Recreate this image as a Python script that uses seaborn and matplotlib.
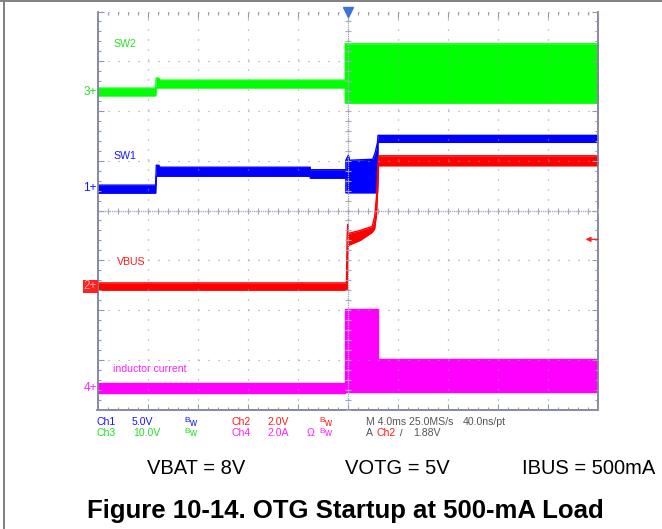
import matplotlib
matplotlib.use("Agg")
import matplotlib.pyplot as plt
import pandas as pd
import seaborn as sns
from matplotlib.lines import Line2D
from matplotlib.ticker import MultipleLocator

sns.set_theme(style="white")
plt.rcParams["font.family"] = ["Liberation Sans", "DejaVu Sans"]
plt.rcParams["lines.scale_dashes"] = False

# ---------------------------------------------------------------------------
# Scope settings
# ---------------------------------------------------------------------------
ch_names = ["Ch1", "Ch2", "Ch3", "Ch4"]
ch_labels = ["SW1", "VBUS", "SW2", "inductor current"]
ch_scale = [5.0, 2.0, 10.0, 2.0]          # units per division
ch_unit = ["V", "V", "V", "A"]
time_per_div_ms = 4.0
trigger_level_v = 1.88

# ---------------------------------------------------------------------------
# Trace envelopes (time in ms, min / max in channel units)
# ---------------------------------------------------------------------------
sw1_t = [-20.0, -15.35, -15.3, -15.1, -15.0, -3.0, -3.0, -0.15, -0.15, 0.05, 0.15, 2.0, 2.2, 2.38, 2.42, 20.0]
sw1_lo = [-0.5, -0.5, 1.2, 1.2, 1.2, 1.2, 1.0, 1.0, -0.47, -0.47, -0.47, -0.47, -0.47, -0.47, 4.6, 4.6]
sw1_hi = [0.3, 0.3, 2.3, 2.3, 2.1, 2.1, 1.85, 1.85, 2.8, 3.3, 2.8, 2.9, 3.6, 4.6, 5.3, 5.3]

vbus_t = [-20.0, -0.1, -0.05, 0.0, 0.06, 1.0, 1.95, 2.15, 2.3, 2.38, 2.46, 20.0]
vbus_lo = [-0.16, -0.16, -0.16, 1.3, 1.64, 1.84, 2.16, 2.3, 2.9, 3.8, 4.84, 4.84]
vbus_hi = [0.13, 0.13, 2.0, 2.48, 2.12, 2.24, 2.4, 2.8, 3.6, 4.6, 5.24, 5.24]

sw2_t = [-20.0, -15.35, -15.3, -15.1, -15.0, -0.2, -0.2, 20.0]
sw2_lo = [-0.75, -0.75, 0.85, 0.85, 0.85, 0.85, -2.2, -2.2]
sw2_hi = [0.8, 0.8, 2.8, 2.8, 2.4, 2.4, 9.7, 9.7]

il_t = [-20.0, -0.18, -0.18, 2.44, 2.44, 20.0]
il_lo = [-0.2, -0.2, -0.19, -0.19, -0.16, -0.16]
il_hi = [0.2, 0.2, 3.18, 3.18, 1.17, 1.17]

# ---------------------------------------------------------------------------
# Layout / style
# ---------------------------------------------------------------------------
W, H = 662, 529
def fx(px):
    return px / W
def fy(py):
    return 1 - py / H

colors = {"Ch1": "#0000ff", "Ch2": "#ff0000", "Ch3": "#00ff00", "Ch4": "#ff00ff"}
text_colors = {"Ch1": "#1515ff", "Ch2": "#ff1a1a", "Ch3": "#22e022", "Ch4": "#ff22ff"}
trace_offset_div = {"Ch1": 0.45, "Ch2": -1.52, "Ch3": 2.38, "Ch4": -3.56}
grid_col = "#9297ae"
frame_col = "#7c8098"

fig = plt.figure(figsize=(W / 100, H / 100), dpi=100)
ax = fig.add_axes([fx(97.5), fy(409.5), fx(598) - fx(97.5), fy(11.5) - fy(409.5)])
ax.set_xlim(-5, 5)
ax.set_ylim(-4, 4)

# Long-form table of envelope edges, in screen divisions
traces = {
    "Ch1": (sw1_t, sw1_lo, sw1_hi),
    "Ch2": (vbus_t, vbus_lo, vbus_hi),
    "Ch3": (sw2_t, sw2_lo, sw2_hi),
    "Ch4": (il_t, il_lo, il_hi),
}
rows = []
for name, scale in zip(ch_names, ch_scale):
    t, lo, hi = traces[name]
    off = trace_offset_div[name]
    for edge, vals in (("lo", lo), ("hi", hi)):
        for ti, v in zip(t, vals):
            rows.append({"channel": name, "edge": f"{name}-{edge}",
                         "x": ti / time_per_div_ms, "y": off + v / scale})
df = pd.DataFrame(rows)

draw_order = ["Ch3", "Ch1", "Ch2", "Ch4"]
for name in draw_order:
    sub = df[df["channel"] == name]
    lo = sub[sub["edge"] == f"{name}-lo"]
    hi = sub[sub["edge"] == f"{name}-hi"]
    ax.fill_between(lo["x"].to_numpy(), lo["y"].to_numpy(), hi["y"].to_numpy(),
                    color=colors[name], lw=0, zorder=1)
    sns.lineplot(data=sub, x="x", y="y", units="edge", estimator=None, sort=False,
                 color=colors[name], lw=1.0, legend=False, ax=ax, zorder=1.5)

# Graticule: dotted divisions, minor ticks on the frame
ax.xaxis.set_major_locator(MultipleLocator(1))
ax.yaxis.set_major_locator(MultipleLocator(1))
ax.xaxis.set_minor_locator(MultipleLocator(0.2))
ax.yaxis.set_minor_locator(MultipleLocator(0.2))
ax.set_axisbelow(False)
ax.grid(True, which="major", color=grid_col, lw=0.9, ls=(0, (0.75, 6.45)), zorder=3)
ax.tick_params(which="both", direction="in", top=True, right=True, bottom=True, left=True,
               labelbottom=False, labelleft=False, color=grid_col, width=0.8)
ax.tick_params(which="major", length=4)
ax.tick_params(which="minor", length=2.5)
ax.set_xlabel("")
ax.set_ylabel("")
for side in ("left", "right", "bottom"):
    ax.spines[side].set_color(frame_col)
    ax.spines[side].set_linewidth(1.3)
ax.spines["top"].set_visible(False)

# Center crosshair
ax.axhline(0, color="#a5a9bf", lw=0.9, ls=(0, (1.0, 0.6)), zorder=3)
ax.axvline(0, color="#a5a9bf", lw=0.9, ls=(0, (1.0, 0.6)), zorder=3)
minor_pos = [i / 5 for i in range(-25, 26)]
ax.plot(minor_pos, [0] * len(minor_pos), ls="none", marker="|", ms=5, mew=0.8,
        color="#a5a9bf", zorder=3)
minor_pos_y = [i / 5 for i in range(-20, 21)]
ax.plot([0] * len(minor_pos_y), minor_pos_y, ls="none", marker="_", ms=5, mew=0.8,
        color="#a5a9bf", zorder=3)

# Trigger position and trigger level markers
ax.plot([0], [4.0], marker="v", ms=7, color="#3a74d8", clip_on=False, zorder=5)
trig_y = trace_offset_div["Ch2"] + trigger_level_v / ch_scale[1]
ax.annotate("", xy=(4.75, trig_y), xytext=(5.0, trig_y),
            arrowprops=dict(arrowstyle="-|>", color="#ff2020", lw=1.0,
                            mutation_scale=7, shrinkA=0, shrinkB=0),
            annotation_clip=False, zorder=5)

# Channel ground markers on the left edge
marker_digits = {"Ch1": "1", "Ch2": "2", "Ch3": "3", "Ch4": "4"}
for name in ch_names:
    ypx = 210.5 - trace_offset_div[name] * 49.75
    if name == "Ch2":
        fig.text(fx(97), fy(ypx), marker_digits[name] + "+", ha="right", va="center",
                 fontsize=8.5, color="#ffb0b0",
                 bbox=dict(fc="#ff2020", ec="none", pad=0.4))
    else:
        fig.text(fx(97), fy(ypx), marker_digits[name] + "+", ha="right", va="center",
                 fontsize=8.5, color=text_colors[name])

# Trace labels
label_pos = {"Ch3": (113, 44), "Ch1": (113, 156), "Ch2": (117, 262), "Ch4": (113, 369)}
for name, lab in zip(ch_names, ch_labels):
    px, py = label_pos[name]
    fig.text(fx(px), fy(py), lab, ha="left", va="center", fontsize=7.6,
             color=text_colors[name])

# Status readout under the graticule
def bw(px, py, col):
    fig.text(fx(px), fy(py - 1.5), "B", ha="left", va="center", fontsize=6.0, color=col)
    fig.text(fx(px + 5.5), fy(py + 0.5), "w", ha="left", va="center", fontsize=7.0, color=col)

gray = "#555555"
fs = 7.6
r1, r2 = 422, 433
fig.text(fx(96), fy(r1), ch_names[0], fontsize=fs, color=text_colors["Ch1"], va="center")
fig.text(fx(132), fy(r1), f"{ch_scale[0]:.1f}{ch_unit[0]}", fontsize=fs, color=text_colors["Ch1"], va="center")
bw(184, r1, text_colors["Ch1"])
fig.text(fx(231), fy(r1), ch_names[1], fontsize=fs, color=text_colors["Ch2"], va="center")
fig.text(fx(267), fy(r1), f"{ch_scale[1]:.1f}{ch_unit[1]}", fontsize=fs, color=text_colors["Ch2"], va="center")
bw(319, r1, text_colors["Ch2"])
fig.text(fx(366), fy(r1), "M 4.0ms 25.0MS/s", fontsize=fs, color=gray, va="center")
fig.text(fx(463), fy(r1), "40.0ns/pt", fontsize=fs, color=gray, va="center")

fig.text(fx(96), fy(r2), ch_names[2], fontsize=fs, color=text_colors["Ch3"], va="center")
fig.text(fx(133), fy(r2), f"{ch_scale[2]:.1f}{ch_unit[2]}", fontsize=fs, color=text_colors["Ch3"], va="center")
bw(184, r2, text_colors["Ch3"])
fig.text(fx(231), fy(r2), ch_names[3], fontsize=fs, color=text_colors["Ch4"], va="center")
fig.text(fx(267), fy(r2), f"{ch_scale[3]:.1f}{ch_unit[3]}", fontsize=fs, color=text_colors["Ch4"], va="center")
fig.text(fx(307), fy(r2), "Ω", fontsize=fs, color=text_colors["Ch4"], va="center")
bw(319, r2, text_colors["Ch4"])
fig.text(fx(366), fy(r2), "A", fontsize=fs, color=gray, va="center")
fig.text(fx(376), fy(r2), "Ch2", fontsize=fs, color=text_colors["Ch2"], va="center")
fig.text(fx(400), fy(r2), "/", fontsize=6.5, color="#222222", va="center")
fig.text(fx(413), fy(r2), f"{trigger_level_v:.2f}V", fontsize=fs, color=gray, va="center")

# Test conditions and figure caption
fig.text(fx(147), fy(469), "VBAT = 8V", fontsize=14.5, color="black", va="center")
fig.text(fx(345), fy(469), "VOTG = 5V", fontsize=14.5, color="black", va="center")
fig.text(fx(655), fy(469), "IBUS = 500mA", fontsize=14.5, color="black", va="center", ha="right")
fig.text(fx(345.5), fy(511), "Figure 10-14. OTG Startup at 500-mA Load", fontsize=18.5,
         fontweight="bold", color="black", ha="center", va="center")

# Page border
fig.add_artist(Line2D([0, 1], [fy(0.8), fy(0.8)], color="#808080", lw=1.4))
fig.add_artist(Line2D([fx(3.5), fx(3.5)], [0, 1], color="#808080", lw=1.4))

fig.savefig("out.png", dpi=100)
